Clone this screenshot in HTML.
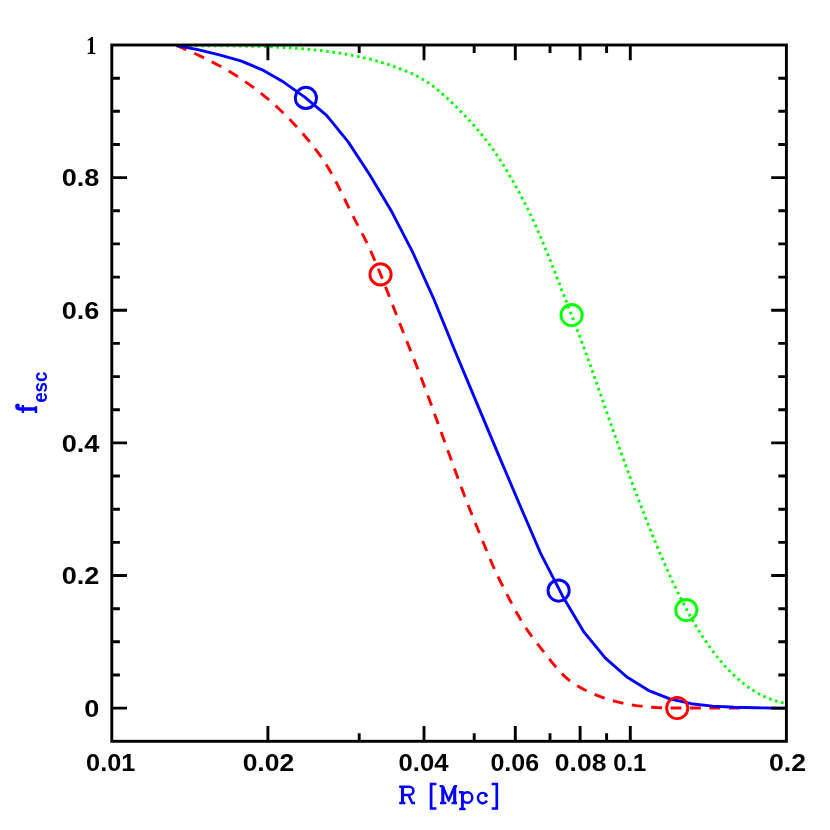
<!DOCTYPE html><html><head><meta charset="utf-8"><style>html,body{margin:0;padding:0;background:#fff}svg{display:block}</style></head><body><svg style="will-change:transform" width="830" height="830" viewBox="0 0 830 830">
<rect width="830" height="830" fill="#fff"/>
<g fill="none" stroke-width="2.9" stroke-linejoin="round">
<polyline points="176.4,45.5 180.4,47.2 184.4,48.9 188.4,50.6 192.4,52.4 196.4,54.2 200.4,56.1 204.4,58.0 208.4,60.0 212.4,62.1 216.4,64.2 220.4,66.3 224.4,68.6 228.4,70.9 232.4,73.3 236.4,75.8 240.4,78.4 244.4,81.1 248.4,83.9 252.4,86.7 256.4,89.7 260.4,92.8 264.4,96.1 268.4,99.4 272.4,102.9 276.4,106.4 280.4,110.2 284.4,114.0 288.4,118.0 292.4,122.2 296.4,126.5 300.4,130.9 304.4,135.5 308.4,140.3 312.4,145.3 316.4,150.4 320.4,155.8 324.4,161.7 328.4,168.0 332.4,175.0 336.4,182.5 340.4,190.5 344.4,198.6 348.4,206.8 352.4,214.9 356.4,222.7 360.4,230.2 364.4,237.8 368.4,246.0 372.4,254.8 376.4,264.1 380.4,273.9 384.4,283.9 388.4,294.1 392.4,304.5 396.4,314.8 400.4,325.1 404.4,335.2 408.4,345.2 412.4,355.2 416.4,365.4 420.4,375.7 424.4,386.3 428.4,397.1 432.4,407.9 436.4,418.9 440.4,430.0 444.4,441.1 448.4,452.1 452.4,463.1 456.4,474.0 460.4,484.8 464.4,495.4 468.4,505.8 472.4,515.9 476.4,525.8 480.4,535.5 484.4,545.2 488.4,555.0 492.4,564.5 496.4,573.3 500.4,581.5 504.4,589.4 508.4,597.2 512.4,604.9 516.4,612.2 520.4,619.2 524.4,625.8 528.4,631.7 532.4,637.3 536.4,642.5 540.4,647.6 544.4,652.7 548.4,657.8 552.4,662.8 556.4,667.6 560.4,672.1 564.4,676.1 568.4,679.6 572.4,682.6 576.4,685.2 580.4,687.6 584.4,689.7 588.4,691.6 592.4,693.4 596.4,695.1 600.4,696.7 604.4,698.1 608.4,699.4 612.4,700.6 616.4,701.6 620.4,702.6 624.4,703.5 628.4,704.3 632.4,705.0 636.4,705.6 640.4,706.1 644.4,706.5 648.4,706.9 652.4,707.2 656.4,707.5 660.4,707.7 664.4,707.8 668.4,708.0 672.4,708.0 676.4,708.0 680.4,708.0 684.4,708.0 688.4,708.0 692.4,708.0 696.4,708.0 700.4,708.0 704.4,708.0 708.4,708.0 712.4,708.0 716.4,708.0 720.4,708.0 724.4,708.0 728.4,708.0 732.4,708.0 736.4,708.0 740.4,708.0 744.4,708.1 745.0,708.1" stroke="#ff0000" stroke-dasharray="10.82 8.62"/>
<polyline points="176.4,45.5 180.4,45.5 184.4,45.6 188.4,45.6 192.4,45.6 196.4,45.7 200.4,45.7 204.4,45.7 208.4,45.7 212.4,45.7 216.4,45.8 220.4,45.8 224.4,45.8 228.4,45.9 232.4,45.9 236.4,46.0 240.4,46.0 244.4,46.1 248.4,46.2 252.4,46.2 256.4,46.3 260.4,46.5 264.4,46.6 268.4,46.7 272.4,46.9 276.4,47.1 280.4,47.3 284.4,47.5 288.4,47.7 292.4,48.0 296.4,48.3 300.4,48.6 304.4,48.9 308.4,49.3 312.4,49.7 316.4,50.1 320.4,50.5 324.4,51.0 328.4,51.5 332.4,52.1 336.4,52.7 340.4,53.3 344.4,53.9 348.4,54.6 352.4,55.4 356.4,56.1 360.4,57.0 364.4,57.9 368.4,58.8 372.4,59.8 376.4,60.9 380.4,62.1 384.4,63.3 388.4,64.5 392.4,65.9 396.4,67.3 400.4,68.9 404.4,70.5 408.4,72.1 412.4,73.9 416.4,75.9 420.4,78.0 424.4,80.3 428.4,82.8 432.4,85.6 436.4,88.7 440.4,92.1 444.4,95.6 448.4,99.3 452.4,103.1 456.4,107.1 460.4,111.1 464.4,115.2 468.4,119.4 472.4,123.7 476.4,128.3 480.4,133.0 484.4,137.9 488.4,143.1 492.4,148.5 496.4,154.3 500.4,160.4 504.4,166.8 508.4,173.4 512.4,180.3 516.4,187.4 520.4,194.8 524.4,202.4 528.4,210.4 532.4,218.7 536.4,227.4 540.4,236.6 544.4,246.1 548.4,255.9 552.4,266.0 556.4,276.2 560.4,286.5 564.4,296.8 568.4,307.0 572.4,317.3 576.4,327.7 580.4,338.3 584.4,349.0 588.4,360.0 592.4,371.1 596.4,382.5 600.4,394.0 604.4,405.5 608.4,417.0 612.4,428.4 616.4,439.7 620.4,450.9 624.4,461.9 628.4,472.8 632.4,483.6 636.4,494.2 640.4,504.6 644.4,514.9 648.4,525.0 652.4,535.0 656.4,544.7 660.4,554.2 664.4,563.4 668.4,572.4 672.4,581.1 676.4,589.5 680.4,597.6 684.4,605.4 688.4,612.9 692.4,620.0 696.4,626.8 700.4,633.3 704.4,639.4 708.4,645.2 712.4,650.7 716.4,655.9 720.4,660.8 724.4,665.4 728.4,669.7 732.4,673.8 736.4,677.5 740.4,681.0 744.4,684.2 748.4,687.2 752.4,689.9 756.4,692.4 760.4,694.6 764.4,696.6 768.4,698.3 772.4,699.9 776.4,701.2 780.4,702.3 784.4,703.2 786.0,703.5" stroke="#00ff00" stroke-dasharray="2.6 3.65"/>
<polyline points="176.4,45.5 197.8,49.7 219.3,54.8 240.8,60.8 262.2,69.8 283.6,82.1 305.1,97.4 326.6,115.4 348.0,141.6 369.4,174.2 390.9,210.2 412.4,251.6 433.8,299.0 455.2,351.5 476.7,402.9 498.1,453.9 519.6,504.5 541.0,554.2 562.5,595.9 584.0,632.2 605.4,658.2 626.9,677.0 648.3,690.3 669.8,698.9 691.2,703.7 712.6,706.1 734.1,707.3 755.5,707.8 777.0,708.1 786.4,708.1" stroke="#0000ff"/>
<circle cx="305.9" cy="97.9" r="10.6" stroke="#0000ff"/>
<circle cx="558.6" cy="590.6" r="10.6" stroke="#0000ff"/>
<circle cx="380.55" cy="274.4" r="10.6" stroke="#ff0000"/>
<circle cx="677.2" cy="708.0" r="10.6" stroke="#ff0000"/>
<circle cx="571.6" cy="315.1" r="10.6" stroke="#00ff00"/>
<circle cx="686.3" cy="610.1" r="10.6" stroke="#00ff00"/>
</g>
<g stroke="#000" stroke-width="2.9" fill="none">
<rect x="111.8" y="45.0" width="674.6" height="696.3"/>
<path d="M267.9 741.3v-15.2M267.9 45.0v15.2"/>
<path d="M359.2 741.3v-8.1M359.2 45.0v8.1"/>
<path d="M424.0 741.3v-15.2M424.0 45.0v15.2"/>
<path d="M474.2 741.3v-8.1M474.2 45.0v8.1"/>
<path d="M515.3 741.3v-15.2M515.3 45.0v15.2"/>
<path d="M550.0 741.3v-8.1M550.0 45.0v8.1"/>
<path d="M580.1 741.3v-15.2M580.1 45.0v15.2"/>
<path d="M606.6 741.3v-8.1M606.6 45.0v8.1"/>
<path d="M630.3 741.3v-15.2M630.3 45.0v15.2"/>
<path d="M111.8 708.1h15.2M786.4 708.1h-15.2"/>
<path d="M111.8 675.0h8.1M786.4 675.0h-8.1"/>
<path d="M111.8 641.8h8.1M786.4 641.8h-8.1"/>
<path d="M111.8 608.7h8.1M786.4 608.7h-8.1"/>
<path d="M111.8 575.5h15.2M786.4 575.5h-15.2"/>
<path d="M111.8 542.4h8.1M786.4 542.4h-8.1"/>
<path d="M111.8 509.2h8.1M786.4 509.2h-8.1"/>
<path d="M111.8 476.0h8.1M786.4 476.0h-8.1"/>
<path d="M111.8 442.9h15.2M786.4 442.9h-15.2"/>
<path d="M111.8 409.7h8.1M786.4 409.7h-8.1"/>
<path d="M111.8 376.6h8.1M786.4 376.6h-8.1"/>
<path d="M111.8 343.4h8.1M786.4 343.4h-8.1"/>
<path d="M111.8 310.3h15.2M786.4 310.3h-15.2"/>
<path d="M111.8 277.1h8.1M786.4 277.1h-8.1"/>
<path d="M111.8 243.9h8.1M786.4 243.9h-8.1"/>
<path d="M111.8 210.8h8.1M786.4 210.8h-8.1"/>
<path d="M111.8 177.6h15.2M786.4 177.6h-15.2"/>
<path d="M111.8 144.5h8.1M786.4 144.5h-8.1"/>
<path d="M111.8 111.3h8.1M786.4 111.3h-8.1"/>
<path d="M111.8 78.2h8.1M786.4 78.2h-8.1"/>
</g>
<g font-family="Liberation Sans, sans-serif" font-weight="bold" font-size="24.3" fill="#000">
<text transform="translate(99.4,186.2) scale(1.115,1)" text-anchor="end">0.8</text>
<text transform="translate(99.4,318.9) scale(1.115,1)" text-anchor="end">0.6</text>
<text transform="translate(99.4,451.5) scale(1.115,1)" text-anchor="end">0.4</text>
<text transform="translate(99.4,584.1) scale(1.115,1)" text-anchor="end">0.2</text>
<text transform="translate(99.4,716.8) scale(1.115,1)" text-anchor="end">0</text>
<text transform="translate(96.6,53.6) scale(0.82,1)" text-anchor="end" font-family="Liberation Serif, serif" font-size="25.6">1</text>
<text transform="translate(110.7,770.9) scale(1.04,1)" text-anchor="middle">0.01</text>
<text transform="translate(268.4,770.9) scale(1.09,1)" text-anchor="middle">0.02</text>
<text transform="translate(423.5,770.9) scale(1.055,1)" text-anchor="middle">0.04</text>
<text transform="translate(514.8,770.9) scale(1.03,1)" text-anchor="middle">0.06</text>
<text transform="translate(580.6,770.9) scale(1.09,1)" text-anchor="middle">0.08</text>
<text transform="translate(629.7,770.9) scale(0.98,1)" text-anchor="middle">0.1</text>
<text transform="translate(787.5,770.9) scale(1.095,1)" text-anchor="middle">0.2</text>
</g>
<g fill="none" stroke="#0000ff" stroke-width="2.5" stroke-linecap="butt" stroke-linejoin="round">
<path d="M402.5 786.7V803" stroke-width="3.1"/>
<path d="M399.2 786.7H409.3A4.1 4.1 0 0 1 409.3 794.9H402.5M399.2 803H405.4M408.4 794.9L412.2 803H415"/>
<path d="M436.4 784H431.1V808.5H436.4M491.7 784H496.8V808.5H491.7" stroke-width="2.7" stroke-linejoin="miter"/>
<path d="M442.8 786.3V803M454.7 786.3V803" stroke-width="3.1"/>
<path d="M439.6 786.3H443.5M440 803H446.3M454 786.3H457M451.5 803H457M443 786.6L448.7 800.6L454.5 786.6"/>
<path d="M462.4 791.2V809" stroke-width="2.8"/>
<path d="M458.9 792.3H462.4M459.2 809H465.6"/>
<ellipse cx="467.3" cy="797.55" rx="5.0" ry="5.3" stroke-width="2.4"/>
<path d="M486.3 794.6A4.8 5.2 0 1 0 486.9 800.6" stroke-width="2.4"/>
</g>
<circle cx="486.0" cy="795.4" r="1.8" fill="#0000ff"/>
<g fill="none" stroke="#0000ff" stroke-width="2.4">
<path d="M36 408.9H20.5C16.8 408.9 16.1 406.8 17.3 405.4" stroke-width="3.5"/>
<path d="M22.9 404.9V413M36 406.2V413"/>
</g>
<circle cx="17.7" cy="405.6" r="2.1" fill="#0000ff"/>
<text transform="translate(47.2,402.85) rotate(-90) scale(0.91,1)" font-family="Liberation Sans, sans-serif" font-weight="bold" font-size="20.7" fill="#0000ff">esc</text>
</svg></body></html>
